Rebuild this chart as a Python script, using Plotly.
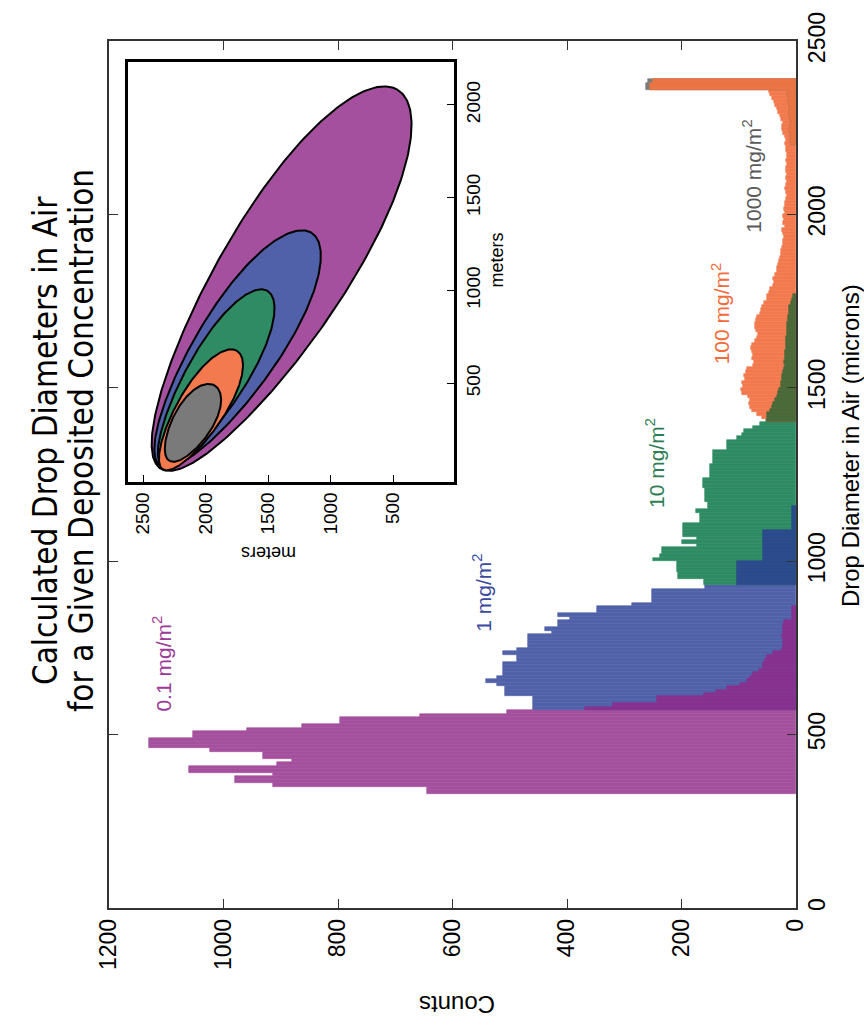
import numpy as np
import plotly.graph_objects as go

# ---------------- data ----------------
BIN_WIDTH = 10  # microns

P01_START = 330   # 0.1 mg/m2
P01_COUNTS = [645, 645, 913, 980, 980, 913, 1060, 1060, 907, 880,
              931, 931, 1024, 1130, 1130, 1130, 1053, 1053, 959, 863,
              796, 796, 657, 505, 369, 320, 243, 243, 160, 140,
              120, 98, 85, 80, 75, 65, 58, 58, 55, 50,
              40, 25, 23, 23, 22, 24, 23, 22, 23, 21,
              7, 7, 7, 7]

P1_START = 570    # 1 mg/m2
P1_COUNTS = [459, 459, 459, 459, 508, 508, 508, 522, 541, 522,
             512, 512, 512, 512, 487, 487, 512, 487, 468, 468,
             468, 468, 426, 438, 415, 415, 395, 415, 348, 348,
             286, 251, 251, 251, 251, 159, 103, 103, 103, 103,
             103, 103, 103, 58, 58, 58, 58, 58, 58, 58,
             58, 58, 7, 7, 7, 7, 7, 7, 7]

P10_START = 930   # 10 mg/m2
P10_COUNTS = [160, 160, 206, 206, 208, 208, 208, 250, 238, 234,
              234, 173, 200, 173, 197, 197, 197, 197, 168, 168,
              168, 175, 154, 154, 159, 159, 159, 159, 162, 162,
              162, 150, 150, 150, 150, 145, 145, 145, 145, 121,
              121, 121, 103, 95, 90, 75, 63, 52, 50, 50,
              45, 42, 40, 36, 33, 31, 29, 27, 26, 25,
              24, 23, 21, 20, 21, 20, 19, 19, 18, 18,
              17, 17, 16, 16, 15, 15, 14, 14, 13, 12,
              12, 9, 7, 5]

P100_START = 1400  # 100 mg/m2
P100_COUNTS = [50, 60, 68, 77, 80, 82, 80, 84, 94, 96,
               92, 94, 89, 90, 87, 85, 75, 74, 76, 75,
               77, 79, 77, 72, 68, 67, 70, 71, 72, 70,
               68, 63, 62, 60, 56, 51, 50, 48, 45, 40,
               38, 40, 36, 34, 33, 31, 30, 28, 27, 26,
               24, 22, 23, 21, 22, 24, 20, 22, 21, 23,
               20, 21, 19, 20, 18, 16, 17, 19, 17, 16,
               18, 15, 17, 18, 16, 17, 15, 16, 18, 17,
               19, 18, 20, 22, 24, 25, 23, 26, 28, 32,
               34, 36, 38, 42, 45, 48, 255, 255, 250]

P1000_START = 2200  # 1000 mg/m2
P1000_COUNTS = [9, 10, 8, 11, 12, 10, 9, 11, 13, 12,
                10, 12, 14, 13, 15, 14, 262, 262, 258]

SERIES_LABELS = ["0.1 mg/m<sup>2</sup>", "1 mg/m<sup>2</sup>", "10 mg/m<sup>2</sup>",
                 "100 mg/m<sup>2</sup>", "1000 mg/m<sup>2</sup>"]

COUNT_TICKS = [0, 200, 400, 600, 800, 1000, 1200]
DIAM_TICKS = [0, 500, 1000, 1500, 2000, 2500]

# inset contour ellipses (meters); angle in degrees in aspect-corrected frame
ELL_CX = [1410, 1756, 1924, 2044, 2108]
ELL_CY = [1060, 683, 527, 355, 285]
ELL_A = [1790, 1112, 816, 560, 352]
ELL_B = [500, 330, 236, 186, 156]
ELL_ANG = [122, 123, 121, 122, 121]
INSET_X_TICKS = [500, 1000, 1500, 2000, 2500]
INSET_Y_TICKS = [500, 1000, 1500, 2000]

# ---------------- styles ----------------
FILL = ["#A4509E", "#5061A9", "#2F8B63", "#F37A4E", "#7A7A7A"]
OVERLAP = ["#883290", "#2C4B8C", "#4A6A3A", "#EC7544"]
LABEL_COL = ["#9C3A98", "#3A4A9E", "#2E7E55", "#F26B3A", "#5A5A5A"]
W, H = 864, 1025
L, R, T, B = 109, 68, 39, 117
PW, PH = W - L - R, H - T - B


def pxx(x):
    return (x - L) / PW


def pxy(y):
    return (H - B - y) / PH


def series_dict(start, counts):
    return {start + BIN_WIDTH * i: c for i, c in enumerate(counts)}


series = [series_dict(P01_START, P01_COUNTS), series_dict(P1_START, P1_COUNTS),
          series_dict(P10_START, P10_COUNTS), series_dict(P100_START, P100_COUNTS),
          series_dict(P1000_START, P1000_COUNTS)]

fig = go.Figure()


def add_bars(dct, color):
    keys = sorted(dct)
    fig.add_trace(go.Bar(
        y=[k + BIN_WIDTH / 2 for k in keys], x=[dct[k] for k in keys],
        orientation="h", width=BIN_WIDTH,
        marker=dict(color=color, line=dict(width=0.6, color=color)),
        showlegend=False, hoverinfo="skip"))


for s, col in zip(series, FILL):
    add_bars(s, col)

for i in range(4):
    a, b = series[i], series[i + 1]
    common = {k: min(a[k], b[k]) for k in a if k in b}
    if common:
        add_bars(common, OVERLAP[i])

# ---------------- inset ellipses ----------------
ASPECT = 1.488  # pixel-per-meter ratio y/x of inset
EGG = 0.12
t = np.linspace(0, 2 * np.pi, 300)
for i in range(5):
    th = np.deg2rad(ELL_ANG[i])
    u = ELL_A[i] * np.cos(t)
    v = ELL_B[i] * np.sin(t) * (1 + EGG * np.cos(t))
    X = ELL_CX[i] + u * np.cos(th) - v * np.sin(th)
    Y = ELL_CY[i] + (u * np.sin(th) + v * np.cos(th)) / ASPECT
    fig.add_trace(go.Scatter(x=X, y=Y, xaxis="x2", yaxis="y2", mode="lines",
                             fill="toself", fillcolor=FILL[i],
                             line=dict(color="black", width=2),
                             showlegend=False, hoverinfo="skip"))

TICKFONT = dict(family="Liberation Sans, Arial, sans-serif", size=23, color="black")
INSETFONT = dict(family="Liberation Sans, Arial, sans-serif", size=19, color="black")

fig.update_layout(
    width=W, height=H,
    margin=dict(l=L, r=R, t=T, b=B),
    paper_bgcolor="white", plot_bgcolor="white",
    barmode="overlay", bargap=0,
    xaxis=dict(range=[1200, 0], tickvals=COUNT_TICKS, ticks="inside", ticklen=9,
               tickcolor="#333", mirror="ticks", showline=True, linecolor="#333",
               linewidth=1.5, showgrid=False, zeroline=False, tickangle=-90,
               tickfont=TICKFONT),
    yaxis=dict(range=[0, 2500], tickvals=DIAM_TICKS, side="right", ticks="inside",
               ticklen=9, tickcolor="#333", mirror="ticks", showline=True,
               linecolor="#333", linewidth=1.5, showgrid=False, zeroline=False,
               tickangle=-90, tickfont=TICKFONT),
    xaxis2=dict(domain=[pxx(128), pxx(454)], anchor="y2", range=[2620, 12],
                tickvals=INSET_X_TICKS, ticks="inside", ticklen=7, tickcolor="black",
                showline=True, mirror=True, linecolor="black", linewidth=2.5,
                showgrid=False, zeroline=False, tickangle=-90, tickfont=INSETFONT),
    yaxis2=dict(domain=[pxy(481), pxy(60)], anchor="x2", range=[-32, 2231],
                side="right", tickvals=INSET_Y_TICKS, ticks="inside", ticklen=7,
                tickcolor="black", showline=True, mirror=True, linecolor="black",
                linewidth=2.5, showgrid=False, zeroline=False, tickangle=-90,
                tickfont=INSETFONT),
)

ann = []


def add_text(text, x, y, size, angle, color="black", family="Liberation Sans, Arial, sans-serif"):
    ann.append(dict(text=text, x=pxx(x), y=pxy(y), xref="paper", yref="paper",
                    showarrow=False, textangle=angle, xanchor="center", yanchor="middle",
                    font=dict(family=family, size=size, color=color)))


TITLE_FAMILY = "Liberation Sans Narrow, DejaVu Sans Condensed, Arial Narrow, sans-serif"
add_text("Calculated Drop Diameters in Air", 45, 440, 33, -90, family=TITLE_FAMILY)
add_text("for a Given Deposited Concentration", 81, 440, 33, -90, family=TITLE_FAMILY)
add_text("Drop Diameter in Air (microns)", 850, 445, 24, -90)
add_text("Counts", 457, 1004, 24, 180)
add_text("meters", 269, 552, 18, 180)
add_text("meters", 497, 259, 18, -90)

LABEL_POS = [(162, 663), (482, 592), (655, 462), (721, 312), (752, 175)]
for lbl, (x, y), col in zip(SERIES_LABELS, LABEL_POS, LABEL_COL):
    add_text(lbl, x, y, 21, -90, color=col)

fig.update_layout(annotations=ann)
fig.write_html("out.html")
